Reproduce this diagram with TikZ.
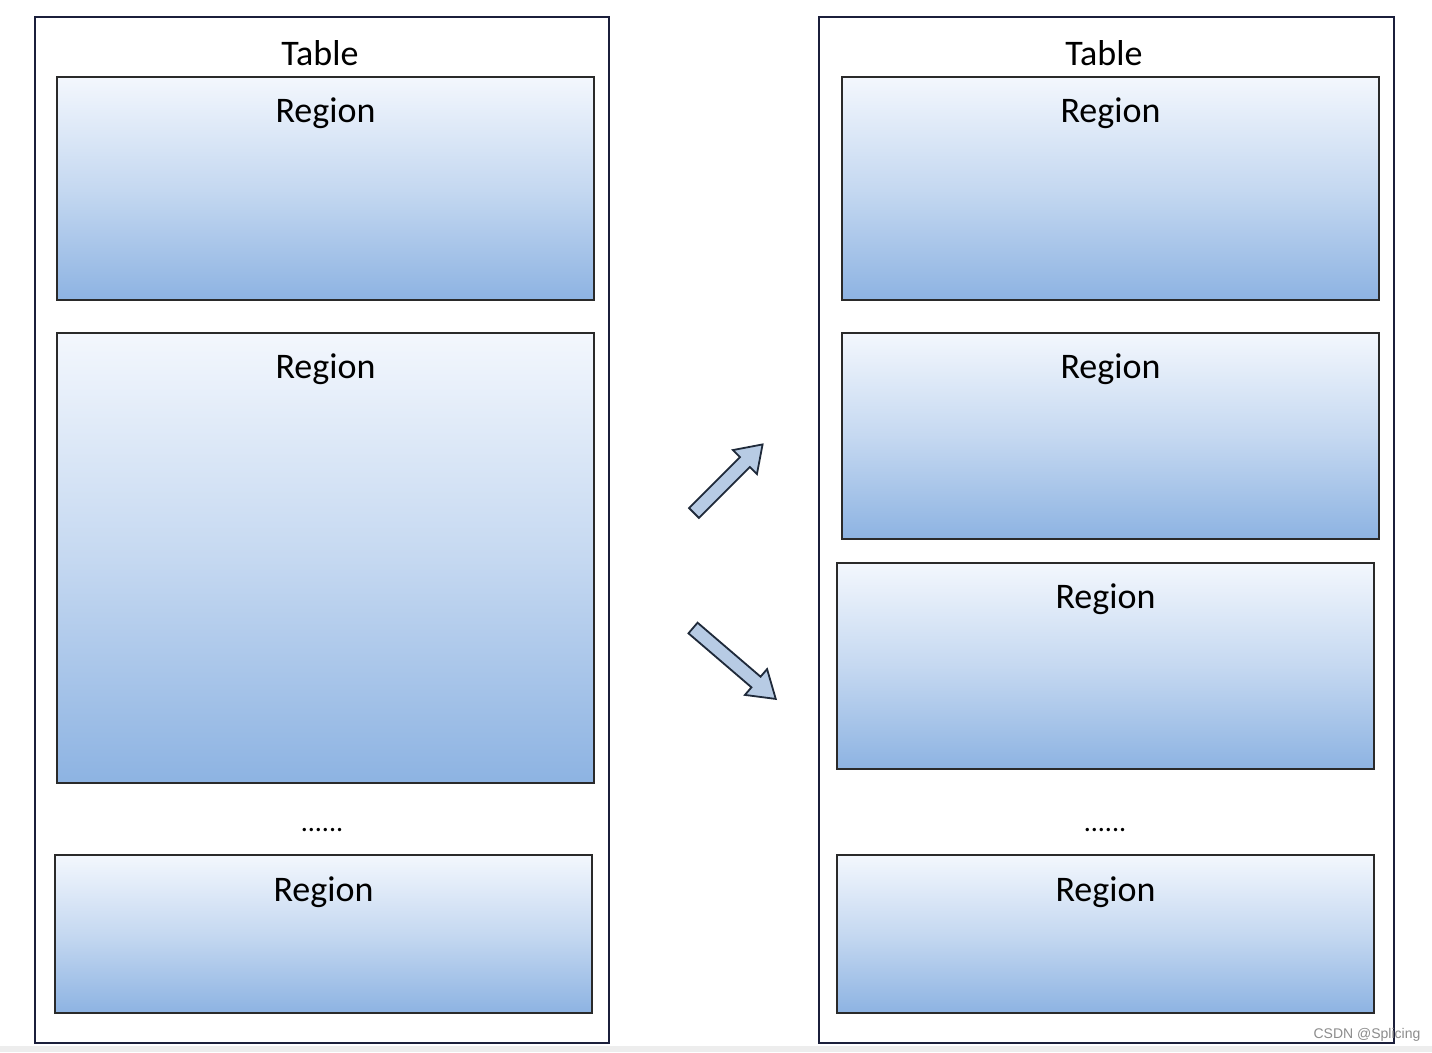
\documentclass[tikz,border=0pt]{standalone}
\usepackage{fontspec}
\setmainfont{Carlito}
\newfontfamily\wmfont{Liberation Sans}
\usetikzlibrary{calc}
\definecolor{frame}{HTML}{1B1F3B}
\definecolor{rborder}{HTML}{2A2A2A}
\definecolor{rtop}{HTML}{F3F7FD}
\definecolor{rbot}{HTML}{8DB3E2}
\definecolor{arrfill}{HTML}{B7CBE4}
\definecolor{arrline}{HTML}{1F2A3A}
\tikzset{
  tablebox/.style={draw=frame, line width=2.2pt, fill=white},
  region/.style={draw=rborder, line width=2.6pt, top color=rtop, bottom color=rbot, middle color=rtop!55!rbot, inner sep=0pt},
  lbl/.style={font=\fontsize{36}{42}\selectfont, inner sep=0pt, anchor=center},
  dotsl/.style={font=\fontsize{28}{32}\selectfont, inner sep=0pt},
  blockarrow/.style={draw=arrline, line width=1.8pt, fill=arrfill, line join=miter},
}
\newcommand{\regionbox}[5]{% name, x1, y1, x2, y2
  \node[region, minimum width={(#4-#2)*1pt}, minimum height={(#5-#3)*1pt}] (#1) at ({(#2+#4)/2},{(#3+#5)/2}) {};
  \node[lbl] (#1l) at ($(#1.north)+(0,38)$) {Region};
}
\begin{document}
\begin{tikzpicture}[x=1pt,y=-1pt]
\useasboundingbox (0,0) rectangle (1432,1052);
\fill[white] (0,0) rectangle (1432,1052);
\fill[black!7] (0,1046) rectangle (1432,1052);
% left table
\node[tablebox, minimum width=574pt, minimum height=1026pt, inner sep=0pt] (tl) at (322,530) {};
\node[lbl] (tlt) at (320,53) {Table};
\regionbox{la}{57}{77}{594}{300}
\regionbox{lb}{57}{333}{594}{783}
\node[dotsl] (ld) at (322,830) {......};
\regionbox{lc}{55}{855}{592}{1013}
% right table
\node[tablebox, minimum width=575pt, minimum height=1026pt, inner sep=0pt] (tr) at (1106.5,530) {};
\node[lbl] (trt) at (1104,53) {Table};
\regionbox{ra}{842}{77}{1379}{300}
\regionbox{rb}{842}{333}{1379}{539}
\regionbox{rc}{837}{563}{1374}{769}
\node[dotsl] (rd) at (1105,830) {......};
\regionbox{re}{837}{855}{1374}{1013}
% arrows
\begin{scope}[shift={(694,513)}, rotate=45]
\draw[blockarrow] (0,-7) -- (72,-7) -- (72,-17) -- (97,0) -- (72,17) -- (72,7) -- (0,7) -- cycle;
\end{scope}
\begin{scope}[shift={(693,628)}, rotate=-40.6]
\draw[blockarrow] (0,-7) -- (83,-7) -- (83,-17) -- (109,0) -- (83,17) -- (83,7) -- (0,7) -- cycle;
\end{scope}
% watermark
\node[font=\fontsize{14}{16}\selectfont\wmfont, text=black!45, inner sep=0pt] (wm) at (1367,1035) {CSDN @Splicing};
\end{tikzpicture}
\end{document}
